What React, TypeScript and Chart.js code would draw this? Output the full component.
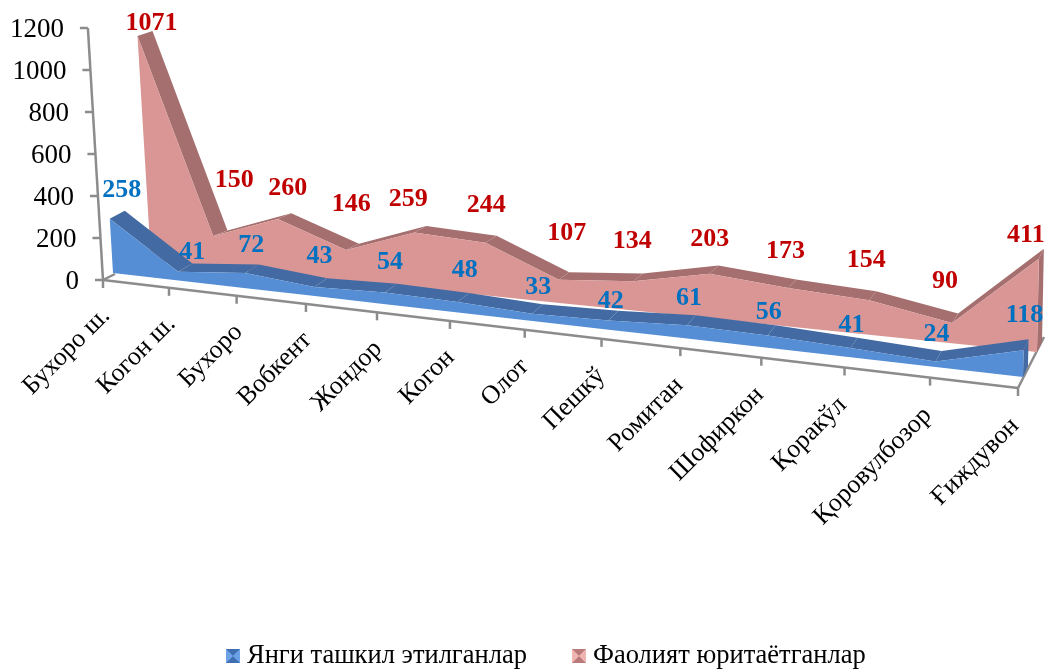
import React, { useEffect, useRef } from "react";
import { Chart, registerables } from "chart.js";

Chart.register(...registerables);

const categories = ["Бухоро ш.", "Когон ш.", "Бухоро", "Вобкент", "Жондор", "Когон", "Олот", "Пешкў", "Ромитан", "Шофиркон", "Қоракўл", "Қоровулбозор", "Ғиждувон"];
const newlyFormed = [258, 41, 72, 43, 54, 48, 33, 42, 61, 56, 41, 24, 118];
const operating = [1071, 150, 260, 146, 259, 244, 107, 134, 203, 173, 154, 90, 411];
const seriesNames = ["Янги ташкил этилганлар", "Фаолият юритаётганлар"];

// Label nudges relative to each data vertex
const blueNudgeX = [12, 14, 6, 5, 5, 7, 6, 2, 2, 1, 1, 1, 1];
const blueNudgeY = [-29, -20, -28, -31, -30, -32, -26, -19, -27, -23, -23, -27, -35];
const redNudgeX = [14, 21, 10, 5, -6, 1, 8, -1, 0, -3, -3, -7, -13];
const redNudgeY = [-13, -56, -31, -46, -33, -37, -46, -40, -34, -37, -40, -42, -24];

// Projection of the 3-D box
const FRONT_L = { x: 103, y: 280 };
const FRONT_R = { x: 1018, y: 388 };
const WALL_HEIGHT = 252;
const PERSPECTIVE = 0.855;
const LEAN_L = -0.06;
const LEAN_R = 0.02;
const GROW_R = 1.08;
const PLANES = {
  axis: { lx: 0, ly: 0, rx: 0, ry: 0 },
  blueFront: { lx: 10, ly: -7, rx: 5, ry: -11 },
  blueBack: { lx: 25, ly: -15, rx: 10, ry: -22 },
  redFront: { lx: 48, ly: -19, rx: 19, ry: -36 },
  redBack: { lx: 63, ly: -24, rx: 24, ry: -46 },
};
const FONT = "'Liberation Serif', 'Times New Roman', serif";
const AXIS_COLOR = "#8c8c8c";

type Plane = { lx: number; ly: number; rx: number; ry: number };
const lerp = (a: number, b: number, t: number) => a + (b - a) * t;

function project(chart: any, index: number, value: number, plane: Plane) {
  const xs = chart.scales.x;
  const ys = chart.scales.y;
  const u = (xs.getPixelForValue(index) - xs.left) / xs.width;
  const t = (u * PERSPECTIVE) / (1 - u + u * PERSPECTIVE);
  const grow = plane === PLANES.axis ? 1 : lerp(1, GROW_R, t);
  const lift = (((ys.bottom - ys.getPixelForValue(value)) / ys.height) * WALL_HEIGHT) * grow;
  const lean = lerp(LEAN_L, LEAN_R, t);
  return {
    x: lerp(FRONT_L.x, FRONT_R.x, t) + lerp(plane.lx, plane.rx, t) + lean * lift,
    y: lerp(FRONT_L.y, FRONT_R.y, t) + lerp(plane.ly, plane.ry, t) - lift,
  };
}

function poly(ctx: CanvasRenderingContext2D, pts: { x: number; y: number }[], color: string) {
  ctx.beginPath();
  pts.forEach((p, i) => (i ? ctx.lineTo(p.x, p.y) : ctx.moveTo(p.x, p.y)));
  ctx.closePath();
  ctx.fillStyle = color;
  ctx.fill();
}

function drawSeries(chart: any, dsIndex: number, front: Plane, back: Plane, ribbon: string) {
  const ctx: CanvasRenderingContext2D = chart.ctx;
  const values: number[] = chart.data.datasets[dsIndex].data;
  const color = chart.data.datasets[dsIndex].backgroundColor;
  const f = values.map((v, i) => project(chart, i, v, front));
  const b = values.map((v, i) => project(chart, i, v, back));
  const n = values.length;
  // right end cap
  poly(ctx, [f[n - 1], b[n - 1], project(chart, n - 1, 0, back), project(chart, n - 1, 0, front)], ribbon);
  // top ribbon
  for (let i = 0; i < n - 1; i++) poly(ctx, [f[i], f[i + 1], b[i + 1], b[i]], ribbon);
  // front face
  const base = values.map((_, i) => project(chart, i, 0, front)).reverse();
  poly(ctx, [...f, ...base], color);
}

const chart3d = {
  id: "chart3d",
  afterDatasetsDraw(chart: any) {
    const ctx: CanvasRenderingContext2D = chart.ctx;
    const ys = chart.scales.y;
    ctx.save();

    // Axes
    ctx.strokeStyle = AXIS_COLOR;
    ctx.lineWidth = 2.5;
    const line = (a: any, b: any) => {
      ctx.beginPath();
      ctx.moveTo(a.x, a.y);
      ctx.lineTo(b.x, b.y);
      ctx.stroke();
    };
    const n = categories.length;
    line(project(chart, n - 1, 0, PLANES.axis), { x: 1044, y: 337 });
    line(project(chart, 0, 0, PLANES.axis), { x: 115, y: 274 });

    drawSeries(chart, 1, PLANES.redFront, PLANES.redBack, "#a66f6f");
    drawSeries(chart, 0, PLANES.blueFront, PLANES.blueBack, "#436aa3");

    // Axis lines over the floor
    line(project(chart, 0, 0, PLANES.axis), project(chart, n - 1, 0, PLANES.axis));
    line(project(chart, 0, 0, PLANES.axis), project(chart, 0, ys.max, PLANES.axis));

    // X ticks + labels
    ctx.textBaseline = "middle";
    categories.forEach((label, i) => {
      const p = project(chart, i, 0, PLANES.axis);
      line(p, { x: p.x, y: p.y + 8 });
      const f = i / (n - 1);
      ctx.save();
      ctx.translate(p.x + lerp(3, -3, f), p.y + lerp(32, 34, f));
      ctx.rotate(-Math.PI / 4);
      ctx.textAlign = "right";
      ctx.fillStyle = "#000";
      ctx.font = `26px ${FONT}`;
      ctx.fillText(label, 0, 0);
      ctx.restore();
    });

    // Y ticks + labels
    ys.ticks.forEach((tick: any) => {
      const p = project(chart, 0, tick.value, PLANES.axis);
      line(p, { x: p.x - 8, y: p.y });
      ctx.textAlign = "right";
      ctx.fillStyle = "#000";
      ctx.font = `27px ${FONT}`;
      ctx.fillText(String(tick.value), p.x - 24, p.y + 2);
    });

    // Data labels
    ctx.textAlign = "center";
    ctx.font = `bold 26px ${FONT}`;
    operating.forEach((v, i) => {
      const p = project(chart, i, v, PLANES.redFront);
      ctx.fillStyle = "#c00000";
      ctx.fillText(String(v), p.x + redNudgeX[i], p.y + redNudgeY[i]);
    });
    newlyFormed.forEach((v, i) => {
      const p = project(chart, i, v, PLANES.blueFront);
      ctx.fillStyle = "#0070c0";
      ctx.fillText(String(v), p.x + blueNudgeX[i], p.y + blueNudgeY[i]);
    });

    // Legend
    const marker = (x: number, y: number, s: number, base: string, dark: string, light: string) => {
      poly(ctx, [{ x, y }, { x: x + s, y }, { x: x + s, y: y + s }, { x, y: y + s }], base);
      const c = { x: x + s / 2, y: y + s / 2 };
      poly(ctx, [{ x, y }, { x: x + s, y }, c], dark);
      poly(ctx, [{ x, y: y + s }, { x: x + s, y: y + s }, c], dark);
      poly(ctx, [{ x, y }, { x, y: y + s }, c], light);
      poly(ctx, [{ x: x + s, y }, { x: x + s, y: y + s }, c], light);
    };
    marker(226, 649, 14, "#558ed5", "#3f6fb0", "#6da3e6");
    marker(572, 649, 14, "#d99694", "#b87a78", "#efb3b1");
    ctx.textAlign = "left";
    ctx.font = `26.5px ${FONT}`;
    ctx.fillStyle = "#000";
    ctx.fillText(chart.data.datasets[0].label, 247, 656);
    ctx.fillText(chart.data.datasets[1].label, 593, 656);
    ctx.restore();
  },
};

export default function App() {
  const ref = useRef<HTMLCanvasElement>(null);
  useEffect(() => {
    const chart = new Chart(ref.current!, {
      type: "line",
      data: {
        labels: categories,
        datasets: [
          { label: seriesNames[0], data: newlyFormed, backgroundColor: "#558ed5", borderColor: "#558ed5", showLine: false, pointRadius: 0 },
          { label: seriesNames[1], data: operating, backgroundColor: "#d99694", borderColor: "#d99694", showLine: false, pointRadius: 0 },
        ],
      },
      options: {
        animation: false,
        responsive: false,
        layout: { padding: { left: 103, right: 28, top: 28, bottom: 60 } },
        plugins: { legend: { display: false }, tooltip: { enabled: false } },
        scales: {
          x: { display: false, offset: false },
          y: { display: false, min: 0, max: 1200, ticks: { stepSize: 200 } },
        },
      },
      plugins: [chart3d],
    } as any);
    return () => chart.destroy();
  }, []);
  return (
    <div style={{ position: "absolute", left: 0, top: 0, width: 1046, height: 670, background: "#fff" }}>
      <canvas ref={ref} width={1046} height={670} />
    </div>
  );
}
